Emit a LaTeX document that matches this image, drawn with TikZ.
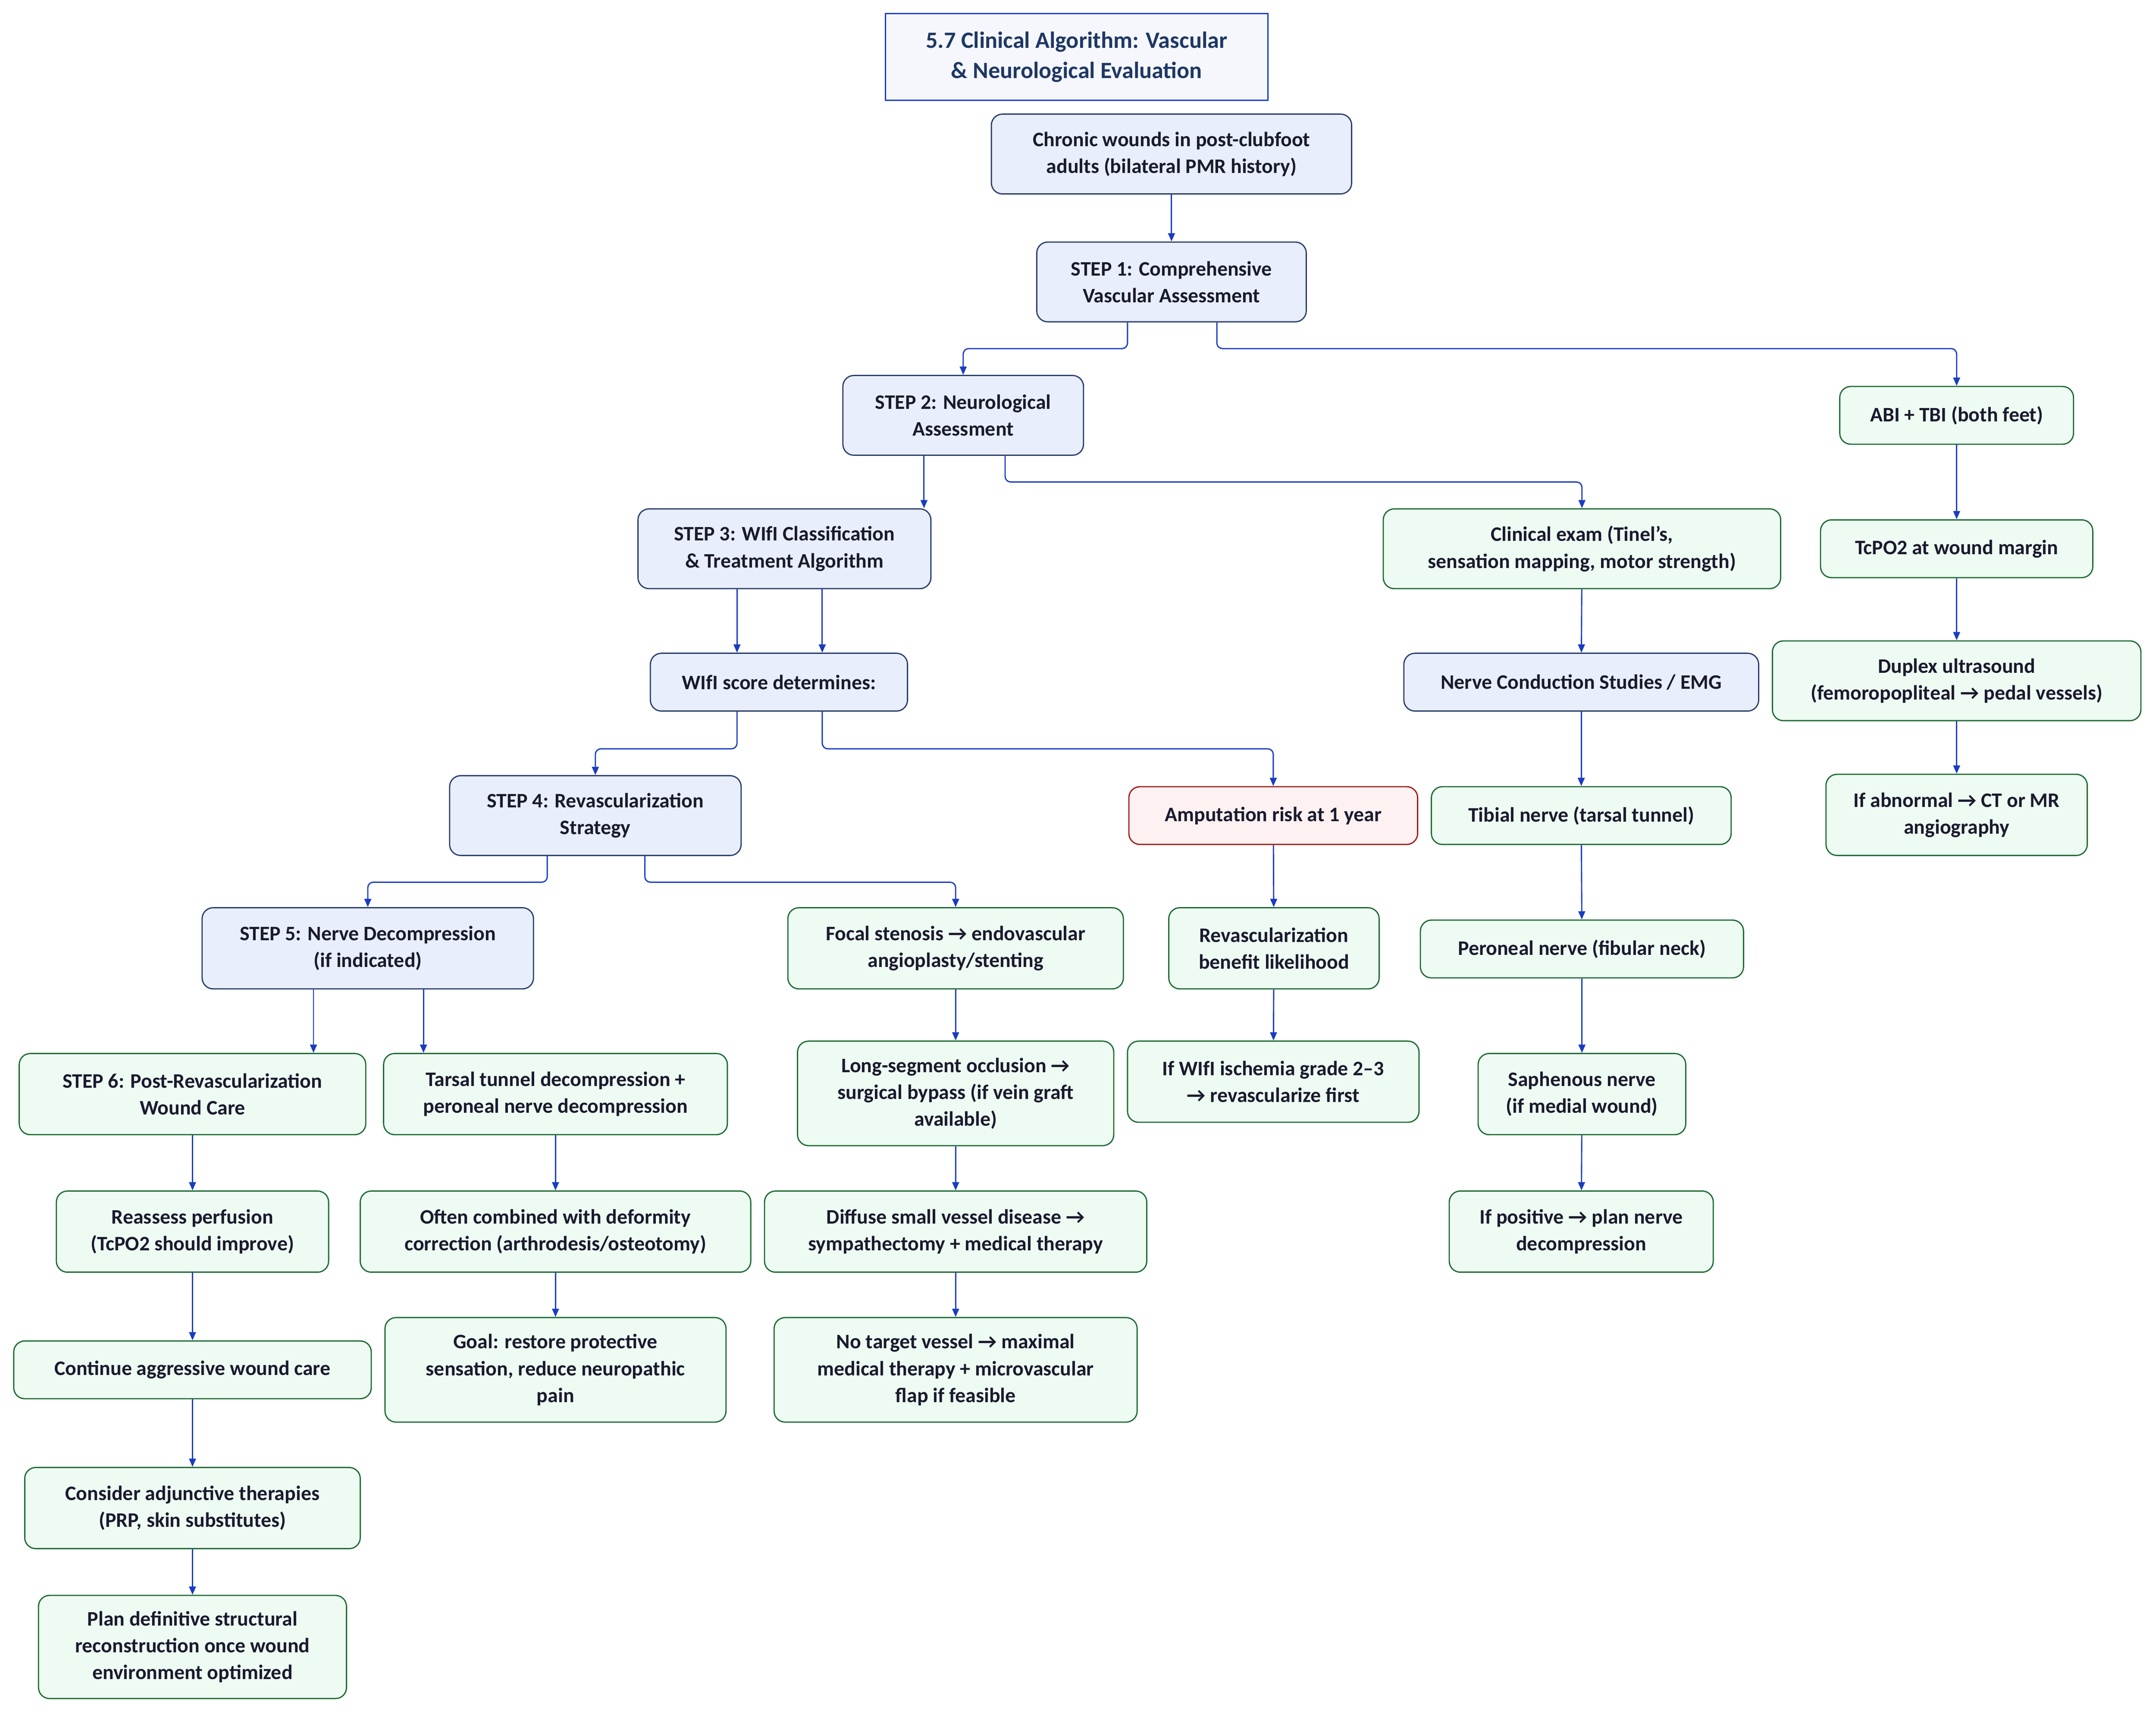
\documentclass[tikz,border=0pt]{standalone}
\usepackage{fontspec}
\setmainfont{Carlito}
\usetikzlibrary{arrows.meta}
\definecolor{bfill}{HTML}{E8EEFB}
\definecolor{bdraw}{HTML}{2B3F6B}
\definecolor{gfill}{HTML}{EEFBF2}
\definecolor{gdraw}{HTML}{1E6B34}
\definecolor{rfill}{HTML}{FDF1F1}
\definecolor{rdraw}{HTML}{A01C1C}
\definecolor{arrc}{HTML}{1A3CC0}
\definecolor{txt}{HTML}{1A1A2E}
\definecolor{ttxt}{HTML}{1F3864}
\definecolor{tfill}{HTML}{F5F7FD}
\tikzset{
 base/.style={draw, line width=0.9pt, rounded corners=8pt, align=center, inner sep=0pt,
   font=\fontsize{15}{19.5}\selectfont\bfseries, text=txt},
 bb/.style={base, fill=bfill, draw=bdraw},
 gb/.style={base, fill=gfill, draw=gdraw},
 rb/.style={base, fill=rfill, draw=rdraw},
 arr/.style={draw=arrc, line width=0.9pt, rounded corners=4pt, -{Triangle[length=6pt,width=5pt]}},
}
\newcommand{\bx}[6]{\node[#1, minimum width=#4pt, minimum height=#5pt] (#6) at (#2,#3) {};}
\begin{document}
\begin{tikzpicture}[x=1pt,y=-1pt]
\useasboundingbox[fill=white] (0,0) rectangle (1568,1246);
\node[draw=arrc, fill=tfill, line width=0.9pt, minimum width=278pt, minimum height=63pt, inner sep=0pt, align=center,
  font=\fontsize{17}{22}\selectfont\bfseries, text=ttxt] (title) at (783,41.5) {5.7 Clinical Algorithm: Vascular\\\& Neurological Evaluation};
\node[bb, minimum width=262pt, minimum height=58pt] (n0) at (852,112) {Chronic wounds in post-clubfoot\\adults (bilateral PMR history)};
\node[bb, minimum width=196pt, minimum height=58pt] (s1) at (852,205) {STEP 1: Comprehensive\\Vascular Assessment};
\node[bb, minimum width=175pt, minimum height=58pt] (s2) at (700.5,302) {STEP 2: Neurological\\Assessment};
\node[gb, minimum width=170pt, minimum height=42pt] (abi) at (1423,302) {ABI + TBI (both feet)};
\node[bb, minimum width=213pt, minimum height=58pt] (s3) at (570.5,399) {STEP 3: WIfI Classification\\\& Treatment Algorithm};
\node[gb, minimum width=289pt, minimum height=58pt] (clin) at (1150.5,399) {Clinical exam (Tinel's,\\sensation mapping, motor strength)};
\node[gb, minimum width=198pt, minimum height=42pt] (tcpo) at (1423,399) {TcPO2 at wound margin};
\node[bb, minimum width=187pt, minimum height=42pt] (wifi) at (566.5,496) {WIfI score determines:};
\node[bb, minimum width=258pt, minimum height=42pt] (ncs) at (1150,496) {Nerve Conduction Studies / EMG};
\node[gb, minimum width=268pt, minimum height=58pt] (dup) at (1423,495) {Duplex ultrasound\\(femoropopliteal → pedal vessels)};
\node[bb, minimum width=212pt, minimum height=58pt] (s4) at (433,593) {STEP 4: Revascularization\\Strategy};
\node[rb, minimum width=210pt, minimum height=42pt] (amp) at (926,593) {Amputation risk at 1 year};
\node[gb, minimum width=218pt, minimum height=42pt] (tib) at (1150,593) {Tibial nerve (tarsal tunnel)};
\node[gb, minimum width=190pt, minimum height=59pt] (abn) at (1423,592.5) {If abnormal → CT or MR\\angiography};
\node[bb, minimum width=241pt, minimum height=59pt] (s5) at (267.5,689.5) {STEP 5: Nerve Decompression\\(if indicated)};
\node[gb, minimum width=244pt, minimum height=59pt] (focal) at (695,689.5) {Focal stenosis → endovascular\\angioplasty/stenting};
\node[gb, minimum width=153pt, minimum height=59pt] (revb) at (926.5,689.5) {Revascularization\\benefit likelihood};
\node[gb, minimum width=235pt, minimum height=42pt] (per) at (1150.5,690) {Peroneal nerve (fibular neck)};
\node[gb, minimum width=252pt, minimum height=59pt] (s6) at (140,795.5) {STEP 6: Post-Revascularization\\Wound Care};
\node[gb, minimum width=250pt, minimum height=59pt] (tars) at (404,795.5) {Tarsal tunnel decompression +\\peroneal nerve decompression};
\node[gb, minimum width=230pt, minimum height=76pt] (long) at (695,795) {Long-segment occlusion →\\surgical bypass (if vein graft\\available)};
\node[gb, minimum width=212pt, minimum height=59pt] (ifw) at (926,786.5) {If WIfI ischemia grade 2–3\\→ revascularize first};
\node[gb, minimum width=151pt, minimum height=59pt] (saph) at (1150.5,795.5) {Saphenous nerve\\(if medial wound)};
\node[gb, minimum width=198pt, minimum height=59pt] (reas) at (140,895.5) {Reassess perfusion\\(TcPO2 should improve)};
\node[gb, minimum width=284pt, minimum height=59pt] (often) at (404,895.5) {Often combined with deformity\\correction (arthrodesis/osteotomy)};
\node[gb, minimum width=278pt, minimum height=59pt] (diff) at (695,895.5) {Diffuse small vessel disease →\\sympathectomy + medical therapy};
\node[gb, minimum width=192pt, minimum height=59pt] (ifp) at (1150,895.5) {If positive → plan nerve\\decompression};
\node[gb, minimum width=260pt, minimum height=42pt] (cont) at (140,996) {Continue aggressive wound care};
\node[gb, minimum width=248pt, minimum height=76pt] (goal) at (404,996) {Goal: restore protective\\sensation, reduce neuropathic\\pain};
\node[gb, minimum width=264pt, minimum height=76pt] (notg) at (695,996) {No target vessel → maximal\\medical therapy + microvascular\\flap if feasible};
\node[gb, minimum width=244pt, minimum height=59pt] (cons) at (140,1096.5) {Consider adjunctive therapies\\(PRP, skin substitutes)};
\node[gb, minimum width=224pt, minimum height=75pt] (plan) at (140,1197.5) {Plan definitive structural\\reconstruction once wound\\environment optimized};
% edges
\draw[arr] (n0) -- (s1);
\draw[arr] ([xshift=-32pt]s1.south) -- ++(0,19) -| (s2.north);
\draw[arr] ([xshift=33pt]s1.south) -- ++(0,19) -| (abi.north);
\draw[arr] ([xshift=-28.5pt]s2.south) -- ([xshift=-28.5pt]s2.south |- s3.north);
\draw[arr] ([xshift=30.5pt]s2.south) -- ++(0,19) -| (clin.north);
\draw[arr] ([xshift=-34.5pt]s3.south) -- ([xshift=-34.5pt]s3.south |- wifi.north);
\draw[arr] ([xshift=27.5pt]s3.south) -- ([xshift=27.5pt]s3.south |- wifi.north);
\draw[arr] ([xshift=-30.5pt]wifi.south) -- ++(0,27) -| (s4.north);
\draw[arr] ([xshift=31.5pt]wifi.south) -- ++(0,27) -| (amp.north);
\draw[arr] ([xshift=-35pt]s4.south) -- ++(0,19) -| (s5.north);
\draw[arr] ([xshift=36pt]s4.south) -- ++(0,19) -| (focal.north);
\draw[arr] ([xshift=-39.5pt]s5.south) -- ([xshift=-39.5pt]s5.south |- s6.north);
\draw[arr] ([xshift=40.5pt]s5.south) -- ([xshift=40.5pt]s5.south |- tars.north);
\draw[arr] (clin) -- (ncs);
\draw[arr] (ncs) -- (tib);
\draw[arr] (tib) -- (per);
\draw[arr] (per) -- (saph);
\draw[arr] (saph) -- (ifp);
\draw[arr] (abi) -- (tcpo);
\draw[arr] (tcpo) -- (dup);
\draw[arr] (dup) -- (abn);
\draw[arr] (amp) -- (revb);
\draw[arr] (revb) -- (ifw);
\draw[arr] (s6) -- (reas);
\draw[arr] (reas) -- (cont);
\draw[arr] (cont) -- (cons);
\draw[arr] (cons) -- (plan);
\draw[arr] (tars) -- (often);
\draw[arr] (often) -- (goal);
\draw[arr] (focal) -- (long);
\draw[arr] (long) -- (diff);
\draw[arr] (diff) -- (notg);
\end{tikzpicture}
\end{document}
